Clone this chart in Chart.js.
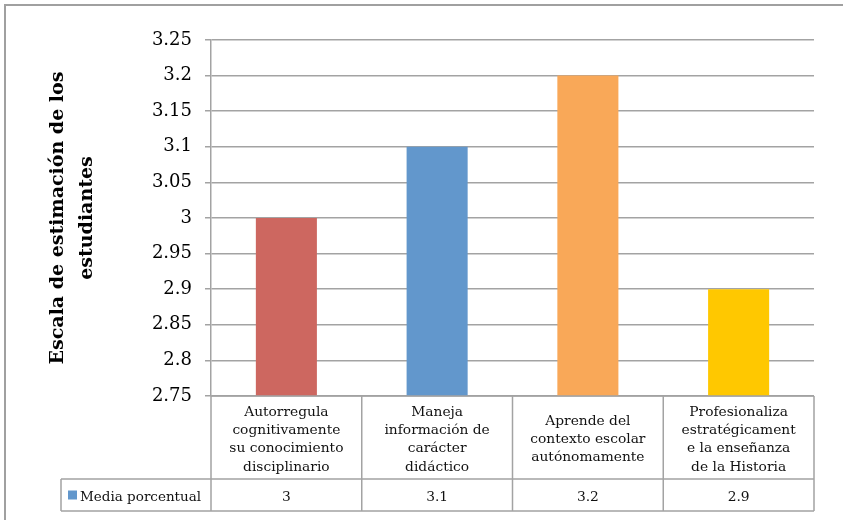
<!DOCTYPE html>
<html>
<head>
<meta charset="utf-8">
<script src="https://cdn.jsdelivr.net/npm/chart.js@4/dist/chart.umd.min.js"></script>
<style>
  html, body { margin: 0; padding: 0; background: #fff; }
  #wrap { width: 843px; height: 520px; position: relative; }
</style>
</head>
<body>
<div id="wrap"><canvas id="chart"></canvas></div>
<script>
// categories, wrapped the way the data table shows them
const categories = [
    ['Autorregula', 'cognitivamente', 'su conocimiento', 'disciplinario'],
    ['Maneja', 'información de', 'carácter', 'didáctico'],
    ['Aprende del', 'contexto escolar', 'autónomamente'],
    ['Profesionaliza', 'estratégicament', 'e la enseñanza', 'de la Historia']
];
const seriesName = 'Media porcentual';
const values = [3, 3.1, 3.2, 2.9];
const barColors = ['#CD6760', '#6297CC', '#F9A858', '#FFC800'];
const yMin = 2.75;
const yMax = 3.25;
const yStep = 0.05;
const yTitle = ['Escala de estimación de los', 'estudiantes'];

const serif = "'DejaVu Serif', serif";
const gridGray = '#a3a3a3';

// draws the outer frame and the Excel-style data table under the plot
const dataTable = {
    id: 'dataTable',
    afterDraw(chart) {
        const { ctx, chartArea } = chart;
        const xs = chart.scales.x;
        const n = categories.length;
        const colW = (chartArea.right - chartArea.left) / n;
        const top = chartArea.bottom;
        const mid = top + 83;
        const bottom = mid + 32;
        const legendLeft = 61;

        ctx.save();
        // frame
        ctx.strokeStyle = '#a0a0a0';
        ctx.lineWidth = 2;
        ctx.beginPath();
        ctx.moveTo(5, chart.height + 2);
        ctx.lineTo(5, 5);
        ctx.lineTo(chart.width + 2, 5);
        ctx.stroke();

        // table lines
        ctx.strokeStyle = gridGray;
        ctx.lineWidth = 1.5;
        ctx.beginPath();
        ctx.moveTo(chartArea.left, top);
        ctx.lineTo(chartArea.right, top);
        ctx.moveTo(legendLeft, mid);
        ctx.lineTo(chartArea.right, mid);
        ctx.moveTo(legendLeft, bottom);
        ctx.lineTo(chartArea.right, bottom);
        ctx.moveTo(legendLeft, mid);
        ctx.lineTo(legendLeft, bottom);
        for (let i = 0; i <= n; i++) {
            const x = chartArea.left + i * colW;
            ctx.moveTo(x, top);
            ctx.lineTo(x, bottom);
        }
        ctx.stroke();

        // category and value text
        ctx.fillStyle = '#111';
        ctx.font = '13.8px ' + serif;
        ctx.textAlign = 'center';
        ctx.textBaseline = 'middle';
        const lh = 18.3;
        categories.forEach((lines, i) => {
            const cx = xs.getPixelForValue(i);
            const y0 = (top + mid) / 2 + 2 - (lines.length - 1) * lh / 2;
            lines.forEach((line, j) => ctx.fillText(line, cx, y0 + j * lh));
            ctx.fillText(String(values[i]), cx, (mid + bottom) / 2 + 2);
        });

        // legend key
        ctx.fillStyle = barColors[1];
        ctx.fillRect(68, (mid + bottom) / 2 - 4.5, 9, 9);
        ctx.fillStyle = '#111';
        ctx.textAlign = 'left';
        ctx.font = '13.5px ' + serif;
        ctx.fillText(seriesName, 80, (mid + bottom) / 2 + 2);
        ctx.restore();
    }
};

new Chart(document.getElementById('chart'), {
    type: 'bar',
    data: {
        labels: categories,
        datasets: [{
            label: seriesName,
            data: values,
            backgroundColor: barColors,
            borderWidth: 0,
            categoryPercentage: 1,
            barPercentage: 0.405
        }]
    },
    options: {
        responsive: true,
        maintainAspectRatio: false,
        animation: false,
        devicePixelRatio: 1,
        layout: { padding: { left: 0, top: 40, right: 29, bottom: 124 } },
        plugins: {
            legend: { display: false },
            tooltip: { enabled: false }
        },
        scales: {
            x: { display: false },
            y: {
                min: yMin,
                max: yMax,
                afterFit: scale => { scale.width = 211; },
                afterBuildTicks: scale => {
                    const ticks = [];
                    for (let v = yMin; v <= yMax + 1e-9; v += yStep) ticks.push({ value: +v.toFixed(2) });
                    scale.ticks = ticks;
                },
                ticks: {
                    padding: 13,
                    color: '#000',
                    font: { family: serif, size: 18 },
                    callback: v => String(+(+v).toFixed(2))
                },
                grid: { color: gridGray, lineWidth: 1.5, tickLength: 6 },
                border: { color: gridGray, width: 1.5 },
                title: {
                    display: true,
                    text: yTitle,
                    color: '#000',
                    font: { family: serif, size: 19, weight: 'bold', lineHeight: 1.5 },
                    padding: { top: 44, bottom: 0 }
                }
            }
        }
    },
    plugins: [dataTable]
});
</script>
</body>
</html>
